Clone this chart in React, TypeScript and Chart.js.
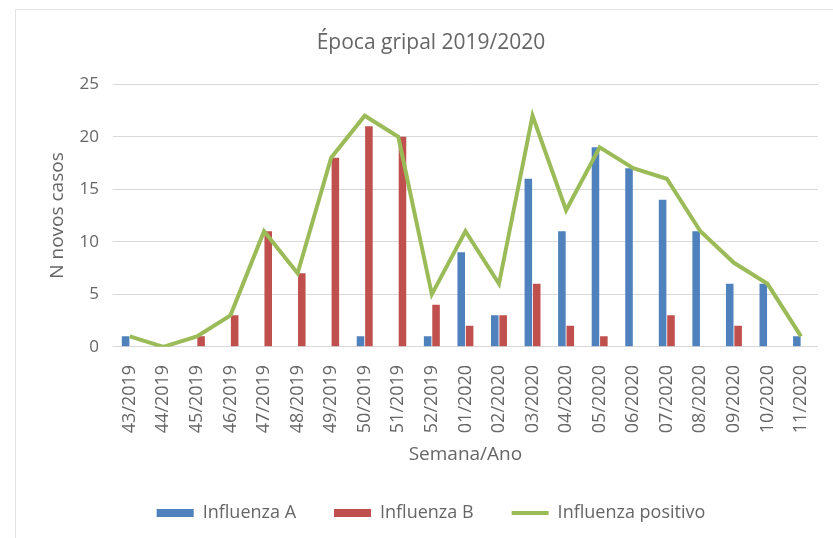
import React, { useEffect, useRef } from "react";
import { Chart, registerables } from "chart.js";

Chart.register(...registerables);

const categories = [
  "43/2019", "44/2019", "45/2019", "46/2019", "47/2019", "48/2019", "49/2019",
  "50/2019", "51/2019", "52/2019", "01/2020", "02/2020", "03/2020", "04/2020",
  "05/2020", "06/2020", "07/2020", "08/2020", "09/2020", "10/2020", "11/2020",
];
const influenzaA = [1, 0, 0, 0, 0, 0, 0, 1, 0, 1, 9, 3, 16, 11, 19, 17, 14, 11, 6, 6, 1];
const influenzaB = [0, 0, 1, 3, 11, 7, 18, 21, 20, 4, 2, 3, 6, 2, 1, 0, 3, 0, 2, 0, 0];
const influenzaPositivo = [1, 0, 1, 3, 11, 7, 18, 22, 20, 5, 11, 6, 22, 13, 19, 17, 16, 11, 8, 6, 1];
const seriesNames = ["Influenza A", "Influenza B", "Influenza positivo"];
const chartTitle = "Época gripal 2019/2020";
const yTitle = "N novos casos";
const xTitle = "Semana/Ano";

const FONT = "'Open Sans', Lato, sans-serif";
const TEXT = "#666666";

export default function App() {
  const ref = useRef<HTMLCanvasElement | null>(null);

  useEffect(() => {
    if (!ref.current) return;
    const chart = new Chart(ref.current, {
      type: "bar",
      data: {
        labels: categories,
        datasets: [
          {
            label: seriesNames[0],
            data: influenzaA,
            backgroundColor: "#4F81BD",
            borderWidth: 0,
            categoryPercentage: 0.5,
            barPercentage: 0.9,
            pointStyle: "rect",
            order: 1,
          },
          {
            label: seriesNames[1],
            data: influenzaB,
            backgroundColor: "#C0504D",
            borderWidth: 0,
            categoryPercentage: 0.5,
            barPercentage: 0.9,
            pointStyle: "rect",
            order: 1,
          },
          {
            type: "line",
            label: seriesNames[2],
            data: influenzaPositivo,
            borderColor: "#9BBB59",
            backgroundColor: "#9BBB59",
            borderWidth: 4,
            pointRadius: 0,
            pointStyle: "line",
            tension: 0,
            order: 0,
          } as any,
        ],
      },
      options: {
        animation: false,
        responsive: false,
        maintainAspectRatio: false,
        layout: { padding: { left: 44, right: 15, top: 9, bottom: 6 } },
        plugins: {
          title: {
            display: true,
            text: chartTitle,
            color: TEXT,
            font: { family: FONT, size: 21, weight: "normal" },
            padding: { top: 21, bottom: 29 },
          },
          legend: {
            position: "bottom",
            labels: {
              usePointStyle: true,
              pointStyleWidth: 37,
              boxHeight: 8,
              padding: 38,
              color: TEXT,
              font: { family: FONT, size: 18 },
              sort: (a: any, b: any) => a.datasetIndex - b.datasetIndex,
            },
          },
          tooltip: { enabled: false },
        },
        scales: {
          x: {
            grid: { display: false },
            border: { display: false },
            ticks: {
              color: TEXT,
              font: { family: FONT, size: 18 },
              minRotation: 90,
              maxRotation: 90,
              autoSkip: false,
              padding: 10,
            },
            title: {
              display: true,
              text: xTitle,
              color: TEXT,
              font: { family: FONT, size: 19 },
              padding: { top: 0, bottom: 0 },
            },
          },
          y: {
            min: 0,
            max: 25,
            ticks: {
              stepSize: 5,
              color: TEXT,
              font: { family: FONT, size: 17 },
              padding: 14,
            },
            grid: { color: "#D9D9D9", lineWidth: 1, drawTicks: false },
            border: { display: false },
            title: {
              display: true,
              text: yTitle,
              color: TEXT,
              font: { family: FONT, size: 19 },
              padding: { top: 2, bottom: 0 },
            },
            afterFit: (scale: any) => {
              scale.width = 69;
            },
          },
        },
      },
    });
    return () => chart.destroy();
  }, []);

  return (
    <div style={{ position: "absolute", left: 0, top: 0, width: 833, height: 538, background: "#fff", overflow: "hidden" }}>
      <div
        style={{
          position: "absolute",
          left: 15,
          top: 9,
          width: 900,
          height: 600,
          borderLeft: "1px solid #E3E3E3",
          borderTop: "1px solid #E3E3E3",
        }}
      />
      <canvas ref={ref} width={833} height={538} style={{ position: "absolute", left: 0, top: 0 }} />
    </div>
  );
}
